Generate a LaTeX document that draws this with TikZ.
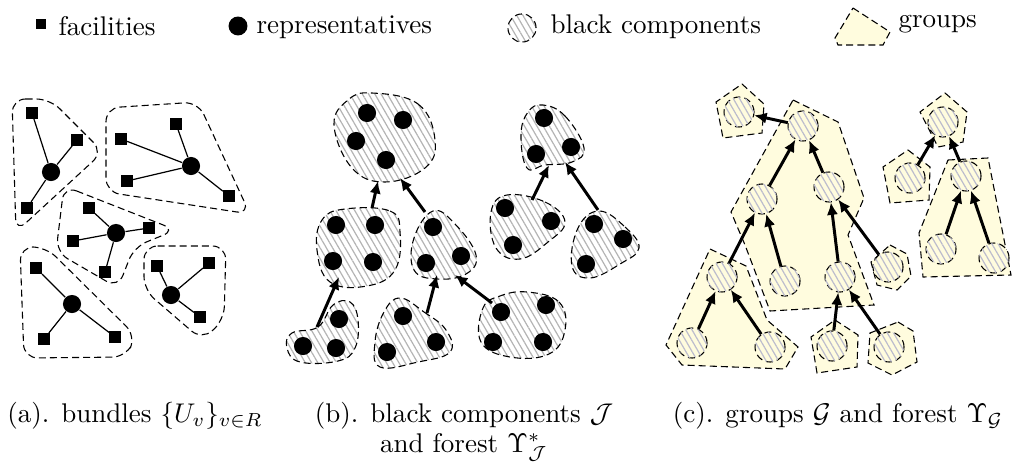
\documentclass[tikz,border=0pt]{standalone}
\usetikzlibrary{arrows.meta,patterns.meta}
\definecolor{groupyellow}{RGB}{255,252,222}
\definecolor{hatchgrey}{RGB}{180,180,180}
\definecolor{hatchblue}{RGB}{188,188,205}
\tikzset{
  facility/.style={rectangle, fill=black, inner sep=0, minimum size=4.1pt},
  rep/.style={circle, fill=black, inner sep=0, minimum size=6.7pt},
  hull/.style={draw, dash pattern=on 2.6pt off 1.5pt, line width=0.4pt},
  hatch/.style={pattern={Lines[angle=-60,distance=2pt,line width=0.45pt]}, pattern color=#1},
  comp/.style={hull, hatch=hatchgrey},
  group/.style={hull, fill=groupyellow},
  blob/.style={circle, hull, minimum size=11.1pt, inner sep=0, fill=groupyellow,
               postaction={hatch=hatchblue}},
  tree/.style={-{Latex[length=4.6pt,width=4.2pt]}, line width=1.1pt},
  link/.style={line width=0.45pt},
  textlabel/.style={inner sep=0, anchor=base west},
  caption/.style={inner sep=0, anchor=base},
}
\begin{document}
\begin{tikzpicture}[x=0.37pt, y=-0.37pt]
\useasboundingbox (0,0) rectangle (1013,461);

% ---------- legend ----------
\node[facility, minimum size=3.7pt] (lf) at (41,24) {};
\node[textlabel] (lft) at (58,36) {facilities};
\node[rep, minimum size=7pt] (lr) at (238,26) {};
\node[textlabel] (lrt) at (256,34) {representatives};
\node[circle, comp, minimum size=10.4pt, inner sep=0] (lb) at (522,28) {};
\node[textlabel] (lbt) at (550,34) {black components};
\draw[group] (853,8) -- (890,32) -- (883,45) -- (838,45) -- (835,38) -- cycle;
\node[textlabel] (lgt) at (898,28) {groups};

% ---------- (a) bundles ----------
\begin{scope}[rounded corners=5pt]
\draw[hull] (12,99) -- (50,99) -- (103,152) -- (16,232) -- cycle;
\draw[hull] (106,108) -- (198,102) -- (250,214) -- (106,192) -- cycle;
\draw[hull] (64,186) -- (176,230) -- (134,247) -- (118,288) -- (56,252) -- cycle;
\draw[hull] (20,247) -- (46,247) -- (136,336) -- (126,357) -- (24,358) -- cycle;
\draw[hull] (144,246) -- (226,246) -- (224,320) -- (202,340) -- (144,290) -- cycle;
\end{scope}

\node[rep] (r1) at (51,172) {};
\node[facility] (f11) at (32,113) {};
\node[facility] (f12) at (77,140) {};
\node[facility] (f13) at (27,208) {};
\draw[link] (f11) -- (r1) (f12) -- (r1) (f13) -- (r1);

\node[rep] (r2) at (191,166) {};
\node[facility] (f21) at (176,124) {};
\node[facility] (f22) at (121,139) {};
\node[facility] (f23) at (127,181) {};
\node[facility] (f24) at (229,196) {};
\draw[link] (f21) -- (r2) (f22) -- (r2) (f23) -- (r2) (f24) -- (r2);

\node[rep] (r3) at (116,233) {};
\node[facility] (f31) at (89,208) {};
\node[facility] (f32) at (149,228) {};
\node[facility] (f33) at (73,241) {};
\node[facility] (f34) at (105,272) {};
\draw[link] (f31) -- (r3) (f32) -- (r3) (f33) -- (r3) (f34) -- (r3);

\node[rep] (r4) at (72,304) {};
\node[facility] (f41) at (36,268) {};
\node[facility] (f42) at (44,339) {};
\node[facility] (f43) at (115,337) {};
\draw[link] (f41) -- (r4) (f42) -- (r4) (f43) -- (r4);

\node[rep] (r5) at (171,295) {};
\node[facility] (f51) at (157,266) {};
\node[facility] (f52) at (209,263) {};
\node[facility] (f53) at (200,317) {};
\draw[link] (f51) -- (r5) (f52) -- (r5) (f53) -- (r5);

% ---------- (b) black components ----------
\begin{scope}[tension=0.7]
\draw[comp] plot[smooth cycle] coordinates {(372,93) (418,104) (435,140) (425,168) (385,182) (352,168) (334,125) (348,100)};
\draw[comp] plot[smooth cycle] coordinates {(345,209) (390,211) (400,232) (395,270) (367,286) (330,282) (317,250) (322,220)};
\draw[comp] plot[smooth cycle] coordinates {(433,211) (455,224) (476,255) (466,274) (437,279) (414,270) (414,238)};
\draw[comp] plot[smooth cycle] coordinates {(543,105) (565,116) (584,148) (572,162) (545,165) (527,168) (521,135) (528,112)};
\draw[comp] plot[smooth cycle] coordinates {(507,195) (545,202) (565,222) (548,242) (520,259) (496,248) (491,212)};
\draw[comp] plot[smooth cycle] coordinates {(599,211) (625,227) (639,248) (620,264) (590,278) (572,266) (578,228)};
\draw[comp] plot[smooth cycle] coordinates {(292,333) (318,327) (333,305) (350,302) (358,320) (355,348) (338,361) (300,362) (287,348)};
\draw[comp] plot[smooth cycle] coordinates {(400,298) (424,312) (446,330) (450,352) (418,362) (380,367) (375,342) (384,312)};
\draw[comp] plot[smooth cycle] coordinates {(527,292) (559,302) (565,330) (549,354) (510,357) (481,342) (483,308) (500,296)};
\end{scope}

\foreach \n/\p in {11/{(367,113)}, 12/{(403,120)}, 13/{(356,141)}, 14/{(386,160)},
                   21/{(336,225)}, 22/{(375,225)}, 23/{(333,261)}, 24/{(373,262)},
                   31/{(433,227)}, 32/{(426,263)}, 33/{(461,256)},
                   41/{(544,118)}, 42/{(536,154)}, 43/{(571,147)},
                   51/{(505,208)}, 52/{(551,221)}, 53/{(513,245)},
                   61/{(594,224)}, 62/{(623,239)}, 63/{(586,264)},
                   71/{(303,346)}, 72/{(339,319)}, 73/{(336,348)},
                   81/{(403,316)}, 82/{(387,352)}, 83/{(436,342)},
                   91/{(501,312)}, 92/{(546,305)}, 93/{(493,342)}, 94/{(543,342)}}
  \node[rep] (d\n) at \p {};

\coordinate (j1b) at (378,181);  \coordinate (j1c) at (400,178);
\coordinate (j2t) at (372,208);  \coordinate (j2b) at (339,277);
\coordinate (j3t) at (425,212);  \coordinate (j3b) at (437,275);  \coordinate (j3c) at (455,275);
\coordinate (j4b) at (549,165);  \coordinate (j4c) at (565,162);
\coordinate (j5t) at (532,200);
\coordinate (j6t) at (598,210);
\coordinate (j7t) at (317,327);
\coordinate (j8t) at (427,313);
\coordinate (j9t) at (492,303);
\draw[tree] (j2t) -- (j1b);
\draw[tree] (j3t) -- (j1c);
\draw[tree] (j7t) -- (j2b);
\draw[tree] (j8t) -- (j3b);
\draw[tree] (j9t) -- (j3c);
\draw[tree] (j5t) -- (j4b);
\draw[tree] (j6t) -- (j4c);

% ---------- (c) groups ----------
\draw[group] (742,84) -- (764,104) -- (762,133) -- (723,138) -- (716,102) -- cycle;
\draw[group] (793,100) -- (838,122) -- (864,198) -- (848,235) -- (874,305) -- (770,311) -- (745,245) -- (731,212) -- cycle;
\draw[group] (710,249) -- (746,266) -- (767,320) -- (798,347) -- (785,369) -- (682,365) -- (666,345) -- cycle;
\draw[group] (835,320) -- (858,335) -- (857,367) -- (817,373) -- (811,337) -- cycle;
\draw[group] (890,245) -- (907,254) -- (911,276) -- (897,290) -- (877,285) -- (871,262) -- cycle;
\draw[group] (898,322) -- (913,331) -- (917,362) -- (892,375) -- (868,363) -- (870,333) -- cycle;
\draw[group] (945,93) -- (967,112) -- (963,142) -- (938,147) -- (920,112) -- cycle;
\draw[group] (908,150) -- (930,167) -- (929,200) -- (890,203) -- (883,167) -- cycle;
\draw[group] (948,160) -- (988,158) -- (1011,275) -- (923,277) -- (919,233) -- cycle;

\node[blob] (c1) at (739,112) {};
\node[blob] (c2) at (803,126) {};
\node[blob] (c3) at (762,199) {};
\node[blob] (c4) at (829,187) {};
\node[blob] (c5) at (785,281) {};
\node[blob] (c6) at (840,277) {};
\node[blob] (c7) at (888,267) {};
\node[blob] (c8) at (722,277) {};
\node[blob] (c9) at (943,122) {};
\node[blob] (c10) at (910,178) {};
\node[blob] (c11) at (966,176) {};
\node[blob] (c12) at (941,249) {};
\node[blob] (c13) at (994,258) {};
\node[blob] (c14) at (692,343) {};
\node[blob] (c15) at (770,347) {};
\node[blob] (c16) at (832,346) {};
\node[blob] (c17) at (889,347) {};

\draw[tree] (c2) -- (c1);
\draw[tree] (c3) -- (c2);
\draw[tree] (c4) -- (c2);
\draw[tree] (c8) -- (c3);
\draw[tree] (c5) -- (c3);
\draw[tree] (c6) -- (c4);
\draw[tree] (c7) -- (c4);
\draw[tree] (c14) -- (c8);
\draw[tree] (c15) -- (c8);
\draw[tree] (c16) -- (c6);
\draw[tree] (c17) -- (c6);
\draw[tree] (c10) -- (c9);
\draw[tree] (c11) -- (c9);
\draw[tree] (c12) -- (c11);
\draw[tree] (c13) -- (c11);

% ---------- captions ----------
\node[caption] (capa) at (135,422) {(a). bundles $\{U_v\}_{v\in R}$};
\node[caption] (capb) at (464,422) {(b). black components $\mathcal{J}$};
\node[caption] (capb2) at (464,452) {and forest $\Upsilon^*_{\mathcal{J}}$};
\node[caption] (capc) at (838,422) {(c). groups $\mathcal{G}$ and forest $\Upsilon_{\mathcal{G}}$};
\end{tikzpicture}
\end{document}
